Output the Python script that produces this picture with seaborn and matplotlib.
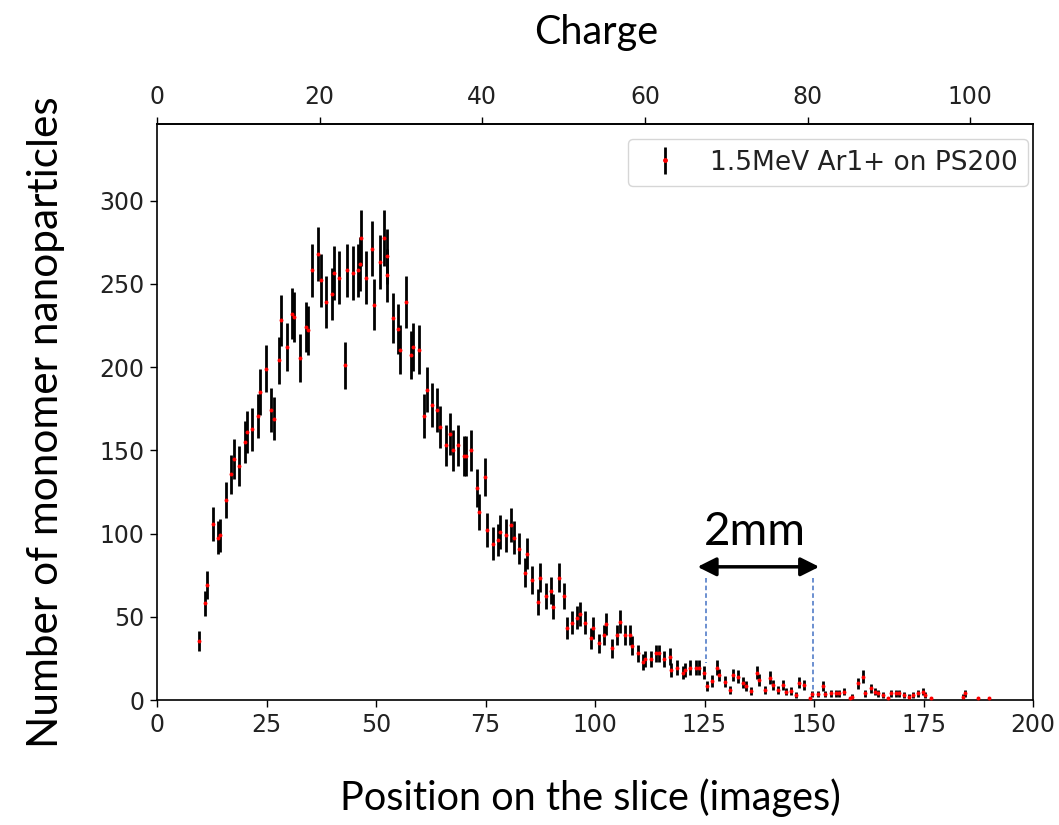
import numpy as np
import matplotlib
matplotlib.use("Agg")
import matplotlib.pyplot as plt
import seaborn as sns
from matplotlib.lines import Line2D

# ---- data ----
position = [9.6, 11.0, 11.5, 12.7, 14.0, 14.3, 15.7, 17.0, 17.5, 18.8,
            20.0, 20.5, 21.8, 23.1, 23.6, 24.8, 26.0, 26.6, 27.9, 28.4,
            29.6, 30.9, 31.3, 32.6, 34.0, 34.4, 35.5, 36.8, 37.4, 38.6,
            39.9, 40.4, 41.6, 42.9, 43.4, 44.7, 45.9, 46.3, 46.5, 47.7,
            49.0, 49.5, 50.8, 51.9, 52.4, 52.6, 53.8, 55.0, 55.5, 56.8,
            58.0, 58.5, 59.8, 61.0, 61.6, 62.8, 64.0, 64.6, 65.9, 67.0,
            67.5, 68.8, 70.0, 70.5, 71.8, 73.0, 73.6, 74.8, 75.4, 76.6,
            77.9, 78.4, 79.7, 80.9, 81.4, 82.7, 84.0, 84.5, 85.7, 86.9,
            87.4, 88.7, 89.9, 90.4, 91.8, 93.0, 93.6, 94.7, 96.0, 96.6,
            97.8, 99.0, 99.6, 100.9, 102.0, 102.6, 103.8, 105.0, 105.6, 106.8,
            108.0, 108.4, 109.8, 111.0, 111.5, 112.7, 114.0, 114.5, 115.7, 117.1,
            117.4, 118.8, 120.0, 120.6, 121.8, 123.1, 123.7, 124.9, 125.5, 126.7,
            127.9, 128.2, 129.7, 130.8, 131.4, 132.6, 133.8, 134.4, 135.7, 136.9,
            137.5, 138.7, 140.0, 140.6, 141.8, 143.0, 143.6, 144.8, 146.0, 146.6,
            147.8, 149.0, 149.6, 150.8, 152.0, 152.6, 153.8, 155.1, 155.7, 156.9,
            158.2, 158.6, 160.0, 161.1, 161.6, 162.9, 164.0, 164.6, 165.8, 167.0,
            167.6, 168.8, 169.4, 170.6, 171.8, 172.5, 173.7, 174.9, 175.4, 176.6,
            184.1, 184.5, 187.5, 190.0]
counts = [35.5, 58, 69, 105.5, 97.5, 99, 120, 135.5, 145, 140.5,
          155, 161, 162.5, 170.5, 185, 199, 174, 169, 204, 228,
          212, 232, 230, 205.5, 224, 222, 258, 268, 252, 239,
          244, 256.5, 253.5, 201, 258, 256.5, 258, 262, 277.5, 253.5,
          271, 237.5, 263, 277.5, 266.5, 255, 229.5, 223, 210.5, 239,
          207.5, 212, 210.5, 170.5, 186.5, 177, 174, 164, 153, 159.5,
          150, 153, 146.5, 146.5, 150, 127.5, 113, 134, 102, 94,
          96, 101, 99, 105, 97.5, 91, 76.5, 88, 72, 59,
          73.5, 62.5, 65.5, 56, 73.5, 62.5, 43.5, 46.5, 49.5, 51.5,
          46.5, 37, 43.5, 34, 39, 45.5, 31, 39, 47, 39,
          39, 32.5, 28, 23, 24.5, 24.5, 28, 28, 24.5, 26,
          18, 19.5, 16.5, 18, 19.5, 19.5, 19.5, 16.5, 8.5, 11.5,
          19.5, 15, 11, 6, 15, 14, 10.5, 8.5, 5.5, 16.5,
          12, 6, 13.5, 9, 6, 9, 5, 5.5, 3, 10.5,
          9, 1, 3.5, 3.5, 8.5, 3.5, 4, 4, 4, 5,
          1, 2, 10, 14, 4, 7, 5, 4, 3, 1,
          4, 4, 4, 3, 2, 3, 4, 5, 3, 1,
          2, 4, 1, 1]
legend_label = "1.5MeV Ar1+ on PS200"
x_ticks = [0, 25, 50, 75, 100, 125, 150, 175, 200]
y_ticks = [0, 50, 100, 150, 200, 250, 300]
charge_ticks = [0, 20, 40, 60, 80, 100]
charge_per_position = 0.5385

df_x = np.array(position)
df_y = np.array(counts)
yerr = np.sqrt(df_y)  # Poisson error bars

sns.set_theme(style="ticks")
plt.rcParams.update({
    "axes.edgecolor": "black",
    "axes.linewidth": 1.2,
    "xtick.color": "black",
    "ytick.color": "black",
    "text.color": "black",
    "xtick.labelcolor": "#222222",
    "ytick.labelcolor": "#222222",
    "xtick.major.size": 5,
    "ytick.major.size": 5,
    "xtick.major.width": 1.0,
    "ytick.major.width": 1.0,
    "font.family": ["DejaVu Sans"],
})

fig = plt.figure(figsize=(10.59, 8.25), dpi=100)
ax = fig.add_axes([157 / 1059, 1 - 700 / 825, (1033 - 157) / 1059, (700 - 124) / 825])

err = ax.errorbar(df_x, df_y, yerr=yerr, fmt="none", ecolor="black",
                  elinewidth=2.0, capsize=0, zorder=2)
sns.scatterplot(x=df_x, y=df_y, color="red", s=8, linewidth=0, marker="o",
                ax=ax, zorder=3, legend=False)

ax.set_xlim(0, 200)
ax.set_ylim(0, 346)
ax.set_xticks(x_ticks)
ax.set_yticks(y_ticks)
ax.tick_params(labelsize=17, pad=4)
for s in ax.spines.values():
    s.set_visible(True)

sec = ax.secondary_xaxis("top", functions=(lambda p: p * charge_per_position,
                                           lambda c: c / charge_per_position))
sec.set_xticks(charge_ticks)
sec.tick_params(labelsize=17, length=5, width=1.0, pad=6)

red_dot = Line2D([], [], color="red", marker="o", ms=2.5, ls="none")
leg = ax.legend([(err, red_dot)], [legend_label], loc="upper right",
                bbox_to_anchor=((1028 - 157) / 876, (700 - 139) / 576),
                borderaxespad=0, fontsize=19, frameon=True, fancybox=True,
                framealpha=0.8, edgecolor="0.8", handletextpad=0.7)
for t in leg.get_texts():
    t.set_color("#222222")

# annotations (2 mm marker)
ax.annotate("", xy=(123.4, 80), xytext=(151.2, 80),
            arrowprops=dict(arrowstyle="<|-|>", color="black", lw=2.5,
                            mutation_scale=28, shrinkA=0, shrinkB=0))
ax.plot([125.3, 125.3], [73.3, 22.2], ls=(0, (3, 2)), color="#4472C4", lw=1.1)
ax.plot([149.7, 149.7], [73.3, 4.2], ls=(0, (3, 2)), color="#4472C4", lw=1.1)

ann_font = "Lato"
fig.text(755 / 1059, 1 - 545 / 825, "2mm", fontsize=33, family=ann_font,
         ha="center", va="baseline")
fig.text(596 / 1059, 1 - 44 / 825, "Charge", fontsize=28.5, family=ann_font,
         ha="center", va="baseline")
fig.text(590 / 1059, 1 - 810 / 825, "Position on the slice (images)", fontsize=28.5,
         family=ann_font, ha="center", va="baseline")
fig.text(58 / 1059, 1 - 748 / 825, "Number of monomer nanoparticles", fontsize=30.5,
         family=ann_font, rotation=90, rotation_mode="anchor", ha="left",
         va="baseline")

fig.savefig("out.png", dpi=100)
